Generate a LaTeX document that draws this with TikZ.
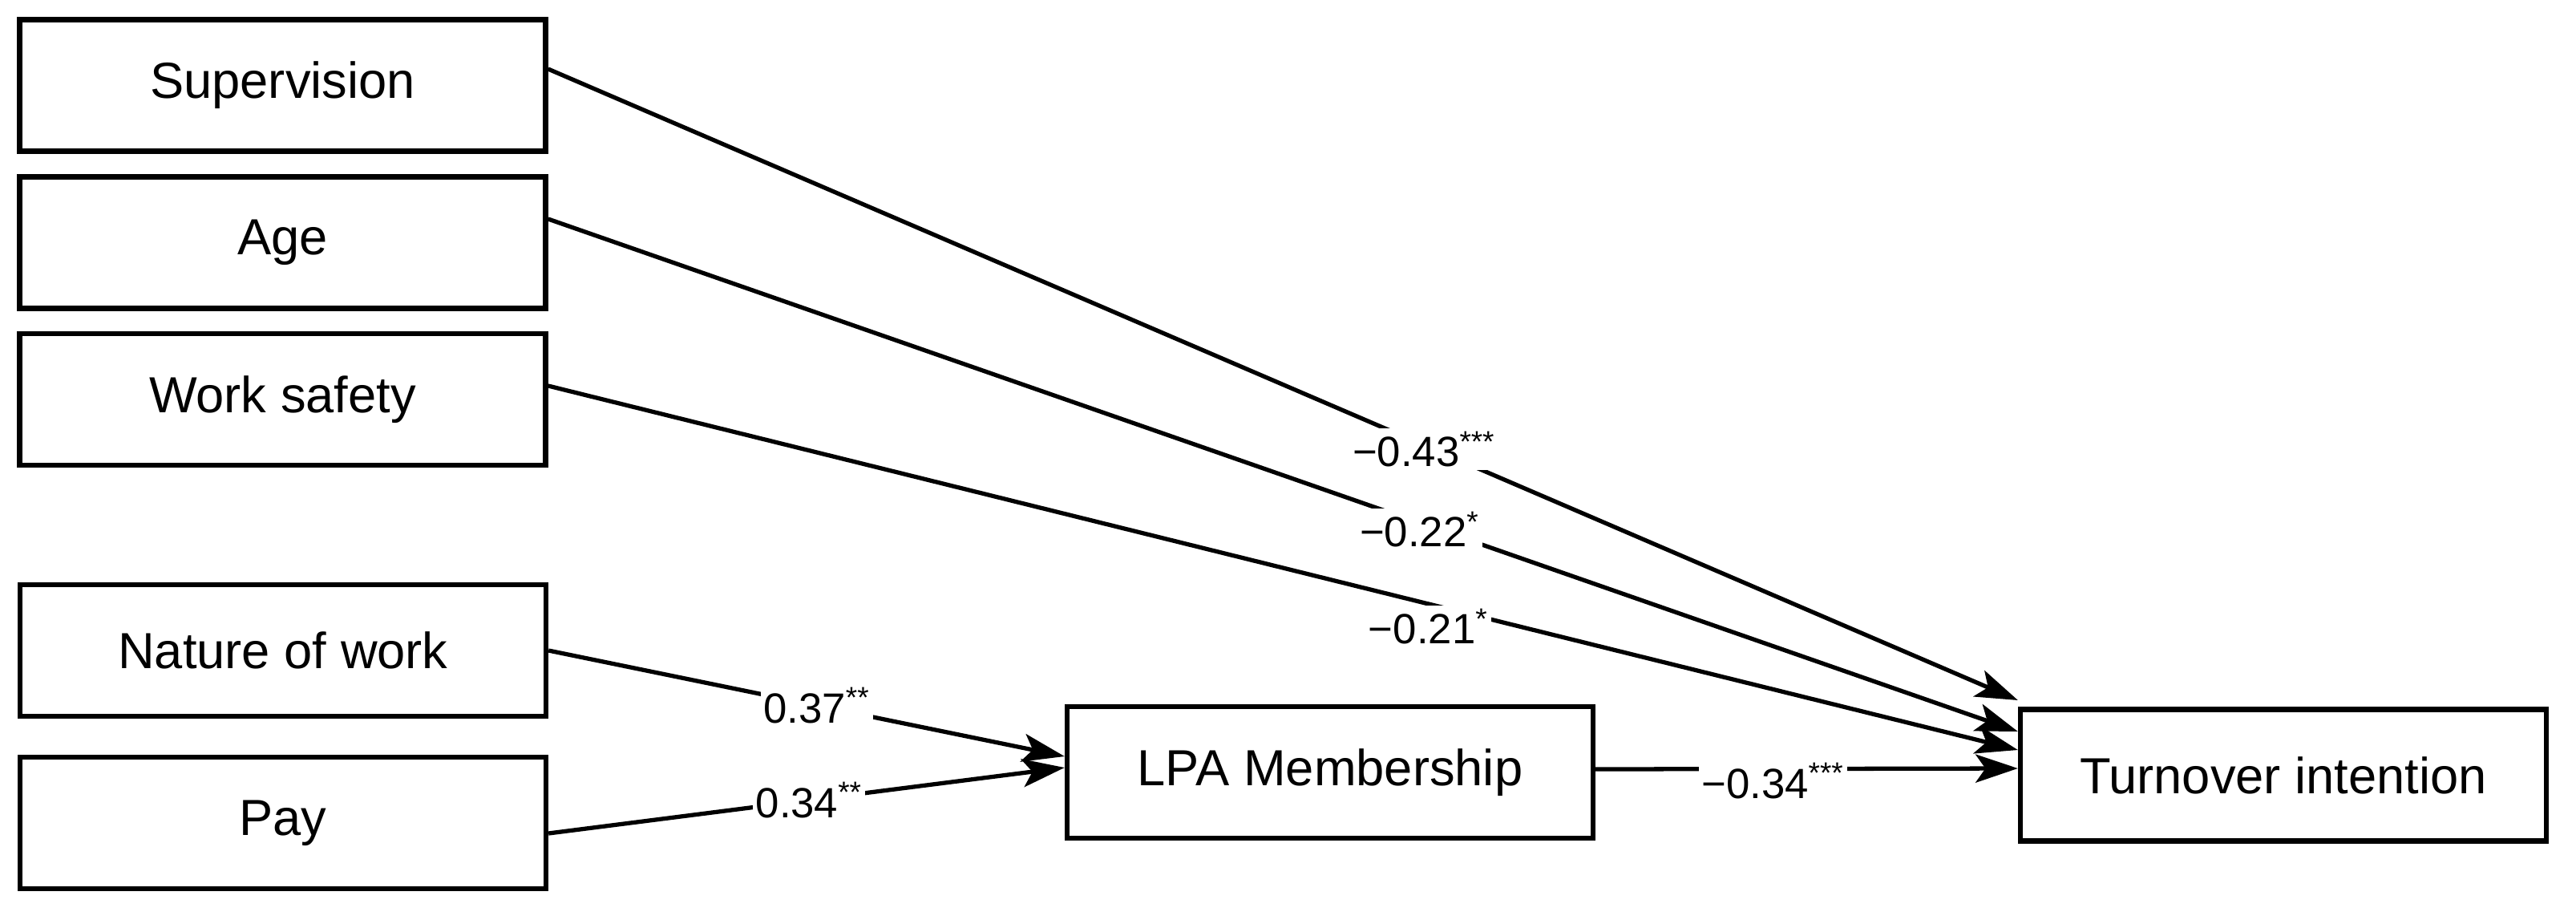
\documentclass[tikz,border=0pt]{standalone}
\usepackage{fontspec}
\setmainfont{Liberation Sans}
\usetikzlibrary{arrows.meta}

\begin{document}
\begin{tikzpicture}[
    var/.style={draw, line width=1.8pt, minimum width=6.56cm, minimum height=1.64cm, font=\fontsize{18}{21}\selectfont},
    path/.style={line width=1.5pt, -{Stealth[length=15pt, width=10pt, inset=3.5pt]}},
    coef/.style={fill=white, inner sep=1pt, font=\fontsize{15}{18}\selectfont}
  ]
    \useasboundingbox (0,0) rectangle (32.13,-11.51) ;
    \node[var] at (3.525,-1.065) (SUP) {Supervision} ;
    \node[var] at (3.525,-3.025) (AGE) {Age} ;
    \node[var] at (3.525,-4.98) (WS) {Work safety} ;
    \node[var] at (3.53,-8.11) (NOW) {Nature of work} ;
    \node[var] at (3.53,-10.26) (PAY) {Pay} ;
    \node[var] at (16.59,-9.63) (LPA) {LPA Membership} ;
    \node[var] at (28.48,-9.665) (TI) {Turnover intention} ;
    \draw[path] ([yshift=0.205cm]SUP.east) -- node[coef, pos=0.596, yshift=-0.05cm] {−0.43\textsuperscript{***}} ([yshift=0.935cm]TI.west) ;
    \draw[path] ([yshift=0.295cm]AGE.east) -- node[coef, pos=0.593, yshift=-0.08cm] {−0.22\textsuperscript{*}} ([yshift=0.545cm]TI.west) ;
    \draw[path] ([yshift=0.17cm]WS.east) -- node[coef, pos=0.599, yshift=-0.28cm] {−0.21\textsuperscript{*}} ([yshift=0.315cm]TI.west) ;
    \draw[path] (NOW.east) -- node[coef, pos=0.52] {0.37\textsuperscript{**}} ([yshift=0.2cm]LPA.west) ;
    \draw[path] ([yshift=-0.13cm]PAY.east) -- node[coef, pos=0.505] {0.34\textsuperscript{**}} ([yshift=0.06cm]LPA.west) ;
    \draw[path] ([yshift=0.04cm]LPA.east) -- node[coef, pos=0.42, yshift=-0.15cm] {−0.34\textsuperscript{***}} ([yshift=0.085cm]TI.west) ;
  \end{tikzpicture}
\end{document}
